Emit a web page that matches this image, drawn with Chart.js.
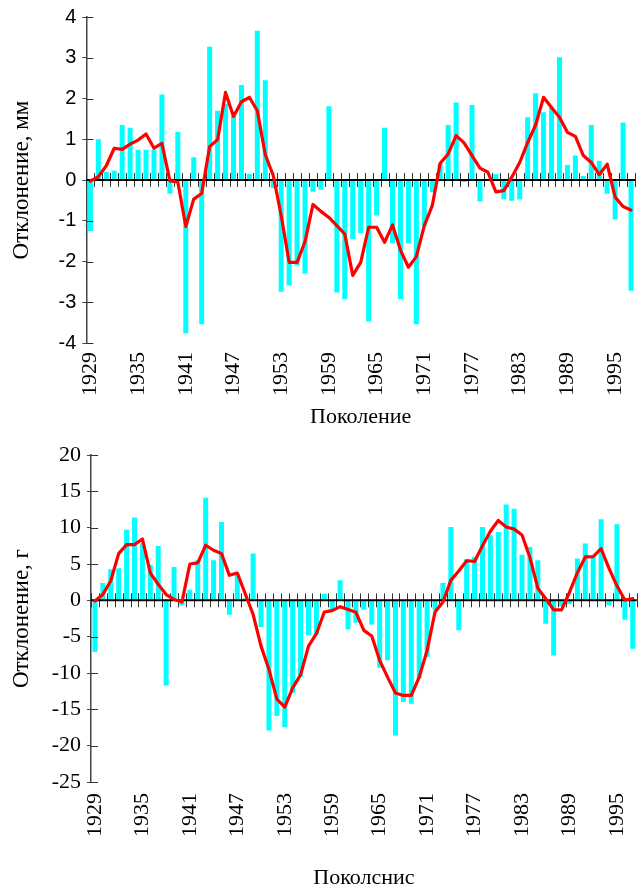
<!DOCTYPE html>
<html>
<head>
<meta charset="utf-8">
<script src="https://cdn.jsdelivr.net/npm/chart.js@4.4.1/dist/chart.umd.min.js"></script>
<style>
  html, body { margin: 0; padding: 0; background: #fff; }
  #wrap { position: relative; width: 642px; height: 890px; }
  canvas { position: absolute; left: 0; }
</style>
</head>
<body>
<div id="wrap">
  <canvas id="chart-mm" width="642" height="445" style="top:0"></canvas>
  <canvas id="chart-g" width="642" height="445" style="top:445px"></canvas>
</div>
<script>
// годы (поколения)
const years = [
  1929, 1930, 1931, 1932, 1933, 1934, 1935, 1936, 1937, 1938,
  1939, 1940, 1941, 1942, 1943, 1944, 1945, 1946, 1947, 1948,
  1949, 1950, 1951, 1952, 1953, 1954, 1955, 1956, 1957, 1958,
  1959, 1960, 1961, 1962, 1963, 1964, 1965, 1966, 1967, 1968,
  1969, 1970, 1971, 1972, 1973, 1974, 1975, 1976, 1977, 1978,
  1979, 1980, 1981, 1982, 1983, 1984, 1985, 1986, 1987, 1988,
  1989, 1990, 1991, 1992, 1993, 1994, 1995, 1996, 1997
];
const shownYears = [1929, 1935, 1941, 1947, 1953, 1959, 1965, 1971, 1977, 1983, 1989, 1995];

// отклонение, мм
const lengthDev = [
  -1.25, 1.0, 0.2, 0.23, 1.35, 1.28, 0.74, 0.74, 0.74, 2.1,
  -0.34, 1.18, -3.76, 0.56, -3.54, 3.27, 1.70, 1.87, 1.58, 2.33,
  0.15, 3.66, 2.45, -0.2, -2.74, -2.59, -2.10, -2.30, -0.29, -0.24,
  1.81, -2.76, -2.92, -1.45, -1.30, -3.47, -0.87, 1.28, -1.55, -2.92,
  -1.55, -3.54, -1.14, -0.3, 0.4, 1.35, 1.90, -0.05, 1.84, -0.53,
  0.0, 0.15, -0.47, -0.51, -0.48, 1.54, 2.13, 1.66, 1.78, 3.01,
  0.37, 0.60, 0.1, 1.35, 0.47, -0.34, -0.97, 1.41, -2.72
];
const lengthSmooth = [
  -0.03, 0.08, 0.35, 0.78, 0.75, 0.88, 0.98, 1.13, 0.78, 0.90,
  -0.02, -0.05, -1.14, -0.47, -0.33, 0.82, 0.99, 2.15, 1.56, 1.92,
  2.03, 1.70, 0.62, 0.11, -0.87, -2.02, -2.02, -1.51, -0.60, -0.77,
  -0.92, -1.12, -1.33, -2.34, -2.02, -1.16, -1.16, -1.53, -1.10, -1.72,
  -2.14, -1.88, -1.12, -0.63, 0.41, 0.64, 1.09, 0.91, 0.60, 0.29,
  0.19, -0.29, -0.26, 0.07, 0.43, 0.92, 1.35, 2.03, 1.78, 1.54,
  1.17, 1.07, 0.60, 0.43, 0.13, 0.39, -0.42, -0.65, -0.74
];

// отклонение, г
const weightDev = [
  -7.12, 2.39, 4.27, 4.41, 9.73, 11.39, 7.9, 4.91, 7.48, -11.71,
  4.59, -0.69, 1.47, 5.5, 14.1, 5.51, 10.79, -1.97, 3.6, 0.3,
  6.43, -3.67, -17.9, -15.93, -17.45, -12.76, -10.5, -4.82, -4.73, 0.92,
  -1.4, 2.75, -3.99, -3.08, -1.29, -3.31, -9.27, -8.26, -18.6, -14.0,
  -14.23, -10.79, -7.81, -1.38, 2.39, 10.1, -4.13, 5.7, 6.0, 10.1,
  8.95, 9.41, 13.2, 12.6, 6.29, 7.35, 5.51, -3.21, -7.58, -0.8,
  -0.5, 5.74, 7.81, 6.0, 11.16, -0.69, 10.47, -2.66, -6.66
];
const weightSmooth = [
  -0.1, 0.8, 2.7, 6.43, 7.67, 7.67, 8.45, 3.76, 2.2, 0.8,
  0.12, -0.23, 5.0, 5.16, 7.58, 6.89, 6.43, 3.44, 3.76, 0.9,
  -1.95, -6.3, -9.5, -13.6, -14.69, -12.05, -10.25, -6.3, -4.59, -1.61,
  -1.42, -0.87, -1.27, -1.65, -4.13, -4.91, -8.26, -10.56, -12.76, -13.09,
  -13.09, -10.56, -6.89, -1.61, -0.23, 2.75, 4.04, 5.45, 5.35, 7.5,
  9.5, 11.0, 10.1, 9.8, 9.0, 5.9, 1.65, 0.23, -1.3, -1.3,
  1.1, 3.8, 5.97, 6.0, 7.1, 4.4, 2.0, 0.05, 0.25
];

const FONT = '"Liberation Serif", "Times New Roman", serif';
const SANS = '"Liberation Sans", Arial, sans-serif';

// нулевая ось с засечками и внутренние засечки оси Y (рисуется поверх столбиков, под линией)
const zeroAxisPlugin = {
  id: 'zeroAxis',
  afterDatasetDraw(chart, args) {
    if (args.meta.type !== 'bar') return;
    const { ctx, chartArea, scales: { x, y } } = chart;
    const y0 = y.getPixelForValue(0);
    const half = (x.getPixelForValue(1) - x.getPixelForValue(0)) / 2;
    ctx.save();
    ctx.strokeStyle = '#333';
    ctx.lineWidth = 1;
    ctx.beginPath();
    for (let i = 0; i <= years.length; i++) {
      const px = Math.round(x.getPixelForValue(i) - half) + 0.5;
      ctx.moveTo(px, y0 - 7);
      ctx.lineTo(px, y0 + 7);
    }
    y.ticks.forEach(t => {
      const py = Math.round(y.getPixelForValue(t.value)) + 0.5;
      ctx.moveTo(chartArea.left, py);
      ctx.lineTo(chartArea.left + 7, py);
    });
    ctx.stroke();
    ctx.strokeStyle = '#000';
    ctx.lineWidth = 2;
    ctx.beginPath();
    ctx.moveTo(chartArea.left, y0);
    ctx.lineTo(chartArea.right, y0);
    ctx.stroke();
    ctx.restore();
  }
};

function makeChart(canvasId, cfg) {
  return new Chart(document.getElementById(canvasId), {
    type: 'bar',
    data: {
      labels: years,
      datasets: [
        {
          type: 'line',
          data: cfg.smooth,
          borderColor: '#ff0000',
          borderWidth: 3.2,
          borderJoinStyle: 'round',
          borderCapStyle: 'round',
          pointRadius: 0,
          tension: 0,
          order: 0
        },
        {
          type: 'bar',
          data: cfg.bars,
          backgroundColor: '#00ffff',
          barPercentage: 0.63,
          categoryPercentage: 1,
          order: 1
        }
      ]
    },
    options: {
      responsive: false,
      animation: false,
      layout: { padding: { left: 0, right: cfg.padRight, top: cfg.padTop, bottom: 0 } },
      plugins: { legend: { display: false }, tooltip: { enabled: false } },
      scales: {
        x: {
          type: 'category',
          offset: true,
          grid: { display: false, drawTicks: false },
          border: { display: false },
          ticks: {
            autoSkip: false,
            minRotation: 90,
            maxRotation: 90,
            padding: cfg.labelPad,
            color: '#000',
            font: { family: FONT, size: 22 },
            callback: (v, i) => shownYears.includes(years[i]) ? String(years[i]) : ''
          },
          title: {
            display: true,
            text: cfg.xTitle,
            color: '#000',
            font: { family: FONT, size: 22, lineHeight: 1 },
            padding: { top: 0, bottom: cfg.xTitlePad }
          },
          afterFit(s) {
            s.height = cfg.xHeight;
            s.paddingLeft = 0;
            s.paddingRight = 0;
          }
        },
        y: {
          min: cfg.min,
          max: cfg.max,
          ticks: {
            stepSize: cfg.step,
            padding: 6,
            color: '#000',
            font: cfg.tickFont,
            callback: v => String(v)
          },
          grid: { drawOnChartArea: false, drawTicks: true, tickLength: 4, color: '#444' },
          border: { display: true, color: '#444', width: 1.5 },
          title: {
            display: true,
            text: cfg.yTitle,
            color: '#000',
            font: { family: FONT, size: 23, lineHeight: 1 },
            padding: { top: 10.5, bottom: 0 }
          },
          afterFit(s) {
            s.width = cfg.yWidth;
            s.paddingTop = 0;
            s.paddingBottom = 0;
          }
        }
      }
    },
    plugins: [zeroAxisPlugin]
  });
}

makeChart('chart-mm', {
  bars: lengthDev, smooth: lengthSmooth,
  min: -4, max: 4, step: 1,
  yTitle: 'Отклонение, мм', xTitle: 'Поколение',
  tickFont: { family: SANS, size: 20 },
  padTop: 17, padRight: 7, yWidth: 86.4,
  xHeight: 102, labelPad: 9, xTitlePad: 17
});

makeChart('chart-g', {
  bars: weightDev, smooth: weightSmooth,
  min: -25, max: 20, step: 5,
  yTitle: 'Отклонение, г', xTitle: 'Поколснис',
  tickFont: { family: FONT, size: 22 },
  padTop: 10, padRight: 5.3, yWidth: 91,
  xHeight: 108, labelPad: 11, xTitlePad: 1
});
</script>
</body>
</html>
